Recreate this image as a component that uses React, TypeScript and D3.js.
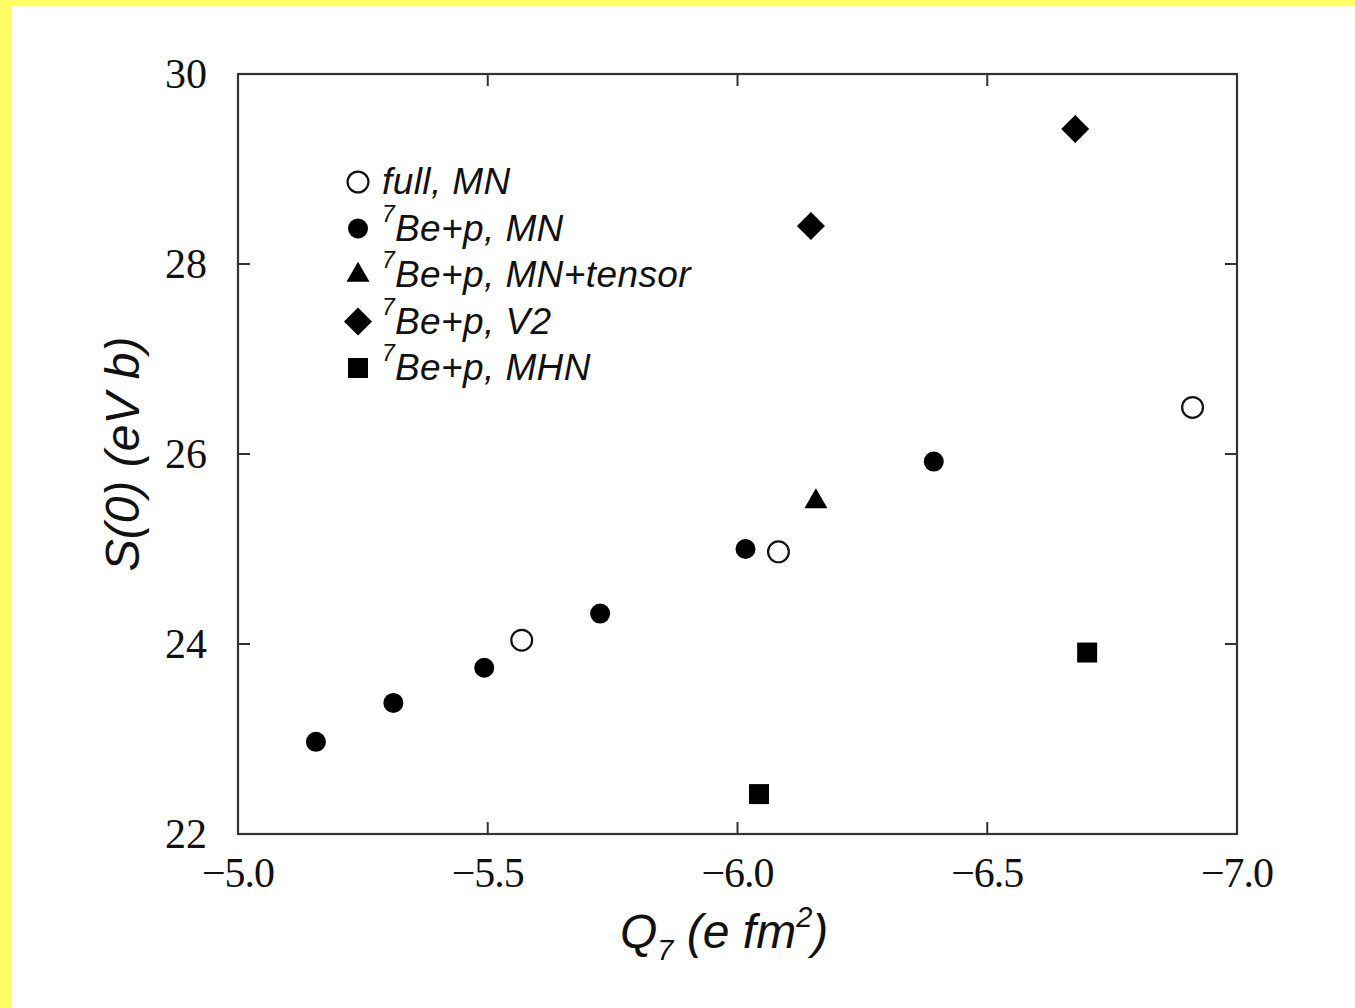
import React from 'react'
import * as d3 from 'd3'

// values: Q7 (e fm^2) vs S(0) (eV b)
const fullMN = [
  { q: -5.568, s: 24.04 },
  { q: -6.082, s: 24.97 },
  { q: -6.911, s: 26.49 },
]
const beMN = [
  { q: -5.156, s: 22.97 },
  { q: -5.311, s: 23.38 },
  { q: -5.493, s: 23.75 },
  { q: -5.725, s: 24.32 },
  { q: -6.016, s: 25.0 },
  { q: -6.393, s: 25.92 },
]
const beTensor = [{ q: -6.157, s: 25.5 }]
const beV2 = [
  { q: -6.147, s: 28.4 },
  { q: -6.676, s: 29.42 },
]
const beMHN = [
  { q: -6.043, s: 22.42 },
  { q: -6.7, s: 23.91 },
]

const xTicks = [-5.0, -5.5, -6.0, -6.5, -7.0]
const yTicks = [22, 24, 26, 28, 30]

const legendItems = [
  { key: 'full', pre: '', label: 'full, MN' },
  { key: 'mn', pre: '7', label: 'Be+p, MN' },
  { key: 'tensor', pre: '7', label: 'Be+p, MN+tensor' },
  { key: 'v2', pre: '7', label: 'Be+p, V2' },
  { key: 'mhn', pre: '7', label: 'Be+p, MHN' },
]

const W = 1355
const H = 1008
const left = 238, right = 1237, top = 74, bottom = 834

const x = d3.scaleLinear().domain([-5, -7]).range([left, right])
const y = d3.scaleLinear().domain([22, 30]).range([bottom, top])

const circlePath = d3.symbol().type(d3.symbolCircle).size(314)()
const openPath = d3.symbol().type(d3.symbolCircle).size(340)()
const triPath = d3.symbol().type(d3.symbolTriangle).size(229)()
const squarePath = d3.symbol().type(d3.symbolSquare).size(400)()
const diamondPath = d3.symbol().type(d3.symbolSquare).size(392)()

const marker = (key: string, cx: number, cy: number, k: number | string) => {
  const t = `translate(${cx},${cy})`
  if (key === 'full')
    return <path key={k} d={openPath} transform={t} fill="#fff" stroke="#111" strokeWidth={2.2} />
  if (key === 'mn') return <path key={k} d={circlePath} transform={t} fill="#000" />
  if (key === 'tensor') return <path key={k} d={triPath} transform={t} fill="#000" />
  if (key === 'v2') return <path key={k} d={diamondPath} transform={`${t} rotate(45)`} fill="#000" />
  return <path key={k} d={squarePath} transform={t} fill="#000" />
}

const fmt = (v: number) => '\u2212' + Math.abs(v).toFixed(1)

export default function App() {
  const serif = '"Liberation Serif", "DejaVu Serif", serif'
  const sans = '"Liberation Sans", Arial, sans-serif'
  const series: [string, { q: number; s: number }[]][] = [
    ['full', fullMN],
    ['mn', beMN],
    ['tensor', beTensor],
    ['v2', beV2],
    ['mhn', beMHN],
  ]
  return (
    <svg width={W} height={H} style={{ position: 'absolute', left: 0, top: 0, background: '#fff' }}>
      <rect x={0} y={0} width={W} height={5} fill="#ffff66" />
      <rect x={0} y={0} width={11} height={H} fill="#ffff66" />

      {/* ticks */}
      {xTicks.slice(1, -1).map((t) => (
        <g key={'xt' + t}>
          <line x1={x(t)} x2={x(t)} y1={bottom} y2={bottom - 12} stroke="#333" strokeWidth={2} />
          <line x1={x(t)} x2={x(t)} y1={top} y2={top + 12} stroke="#333" strokeWidth={2} />
        </g>
      ))}
      {yTicks.slice(1, -1).map((t) => (
        <g key={'yt' + t}>
          <line x1={left} x2={left + 12} y1={y(t)} y2={y(t)} stroke="#333" strokeWidth={2} />
          <line x1={right} x2={right - 12} y1={y(t)} y2={y(t)} stroke="#333" strokeWidth={2} />
        </g>
      ))}
      <rect x={left} y={top} width={right - left} height={bottom - top} fill="none" stroke="#333" strokeWidth={2.2} />

      {/* tick labels */}
      {xTicks.map((t) => (
        <text key={'xl' + t} x={x(t)} y={887} textAnchor="middle" fontFamily={serif} fontSize={42} letterSpacing={-1} fill="#111">
          {fmt(t)}
        </text>
      ))}
      {yTicks.map((t) => (
        <text key={'yl' + t} x={207} y={y(t)} dy="0.34em" textAnchor="end" fontFamily={serif} fontSize={42} fill="#111">
          {t}
        </text>
      ))}

      {/* axis titles */}
      <text x={620} y={948} fontFamily={sans} fontStyle="italic" fontSize={48} fill="#111">
        Q<tspan fontSize={29} dy={12}>7</tspan>
        <tspan dy={-12}> (e fm</tspan>
        <tspan fontSize={29} dy={-21}>2</tspan>
        <tspan dy={21}>)</tspan>
      </text>
      <text
        transform={`translate(139,${(top + bottom) / 2}) rotate(-90)`}
        textAnchor="middle"
        fontFamily={sans}
        fontStyle="italic"
        fontSize={48}
        fill="#111"
      >
        S(0) (eV b)
      </text>

      {/* data */}
      {series.map(([key, pts]) => (
        <g key={key}>{pts.map((p, i) => marker(key, x(p.q), y(p.s), i))}</g>
      ))}

      {/* legend */}
      {legendItems.map((it, i) => {
        const cy = 182 + i * 46.5
        return (
          <g key={'lg' + it.key}>
            {marker(it.key, 358, cy, 'm')}
            <text x={382} y={cy + 12} fontFamily={sans} fontStyle="italic" fontSize={37} letterSpacing={0.4} fill="#111">
              {it.pre ? (
                <>
                  <tspan fontSize={23} dy={-19}>{it.pre}</tspan>
                  <tspan x={395} dy={19}>{it.label}</tspan>
                </>
              ) : (
                it.label
              )}
            </text>
          </g>
        )
      })}
    </svg>
  )
}
